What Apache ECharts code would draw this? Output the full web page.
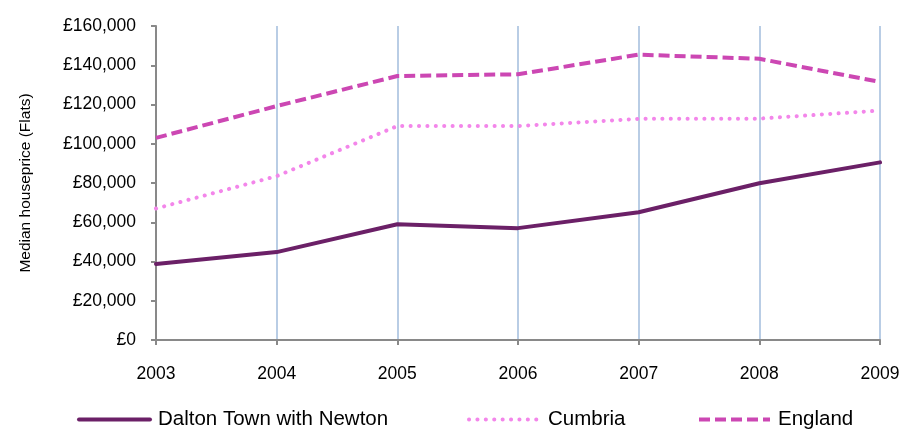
<!DOCTYPE html>
<html>
<head>
<meta charset="utf-8">
<script src="https://cdn.jsdelivr.net/npm/echarts@6/dist/echarts.min.js"></script>
<style>html,body{margin:0;padding:0;background:#fff}#c{width:917px;height:431px}</style>
</head>
<body>
<div id="c"></div>
<script>
const years = ['2003','2004','2005','2006','2007','2008','2009'];
const dalton = [38700, 44800, 59000, 57000, 65100, 79900, 90500];
const cumbria = [67000, 83500, 109000, 109000, 112700, 112800, 116900];
const england = [103000, 119200, 134500, 135400, 145400, 143300, 131500];
const yTicks = [0, 20000, 40000, 60000, 80000, 100000, 120000, 140000, 160000];

const font = 'Liberation Sans, Arial, sans-serif';
const chart = echarts.init(document.getElementById('c'), null, {renderer: 'canvas'});
function fmt(v){ return '£' + v.toLocaleString('en-GB'); }
const legendBase = {
  orient: 'horizontal', top: 409, padding: 0, itemWidth: 71, itemHeight: 12,
  itemStyle: {opacity: 0},
  textStyle: {fontFamily: font, fontSize: 20.5, color: '#000', padding: [0,0,0,3]},
  selectedMode: false
};
chart.setOption({
  animation: false,
  backgroundColor: '#fff',
  grid: {left: 156, right: 37, top: 26, bottom: 91, containLabel: false},
  xAxis: {
    type: 'category', data: years, boundaryGap: false,
    axisLine: {lineStyle: {color: '#898989', width: 2}},
    axisTick: {show: true, length: 5, alignWithLabel: true, lineStyle: {color: '#898989', width: 2}},
    axisLabel: {margin: 25, fontFamily: font, fontSize: 17.5, color: '#000'},
    splitLine: {show: true, lineStyle: {color: '#B9CDE5', width: 2}}
  },
  yAxis: {
    type: 'value', min: yTicks[0], max: yTicks[yTicks.length-1], interval: 20000,
    name: 'Median houseprice (Flats)', nameLocation: 'middle', nameGap: 122, nameRotate: 90,
    nameTextStyle: {fontFamily: font, fontSize: 15.5, color: '#000'},
    axisLine: {show: true, lineStyle: {color: '#898989', width: 2}},
    axisTick: {show: true, length: 5, lineStyle: {color: '#898989', width: 2}},
    axisLabel: {margin: 20, fontFamily: font, fontSize: 17.5, color: '#000', formatter: fmt},
    splitLine: {show: false}
  },
  legend: [
    Object.assign({}, legendBase, {left: 77, data: ['Dalton Town with Newton'], lineStyle: {width: 4}}),
    Object.assign({}, legendBase, {left: 467, data: ['Cumbria'], lineStyle: {width: 4}}),
    Object.assign({}, legendBase, {left: 697, data: ['England'], lineStyle: {width: 4}})
  ],
  series: [
    {name: 'Dalton Town with Newton', type: 'line', data: dalton, symbol: 'none',
     lineStyle: {color: '#6B2067', width: 4, cap: 'round'}, itemStyle: {color: '#6B2067'}},
    {name: 'Cumbria', type: 'line', data: cumbria, symbol: 'none',
     lineStyle: {color: '#F386EA', width: 4, type: [0.1, 8.3], cap: 'round'}, itemStyle: {color: '#F386EA'}},
    {name: 'England', type: 'line', data: england, symbol: 'none',
     lineStyle: {color: '#CC47B3', width: 4, type: [11, 5]}, itemStyle: {color: '#CC47B3'}}
  ]
});
</script>
</body>
</html>
